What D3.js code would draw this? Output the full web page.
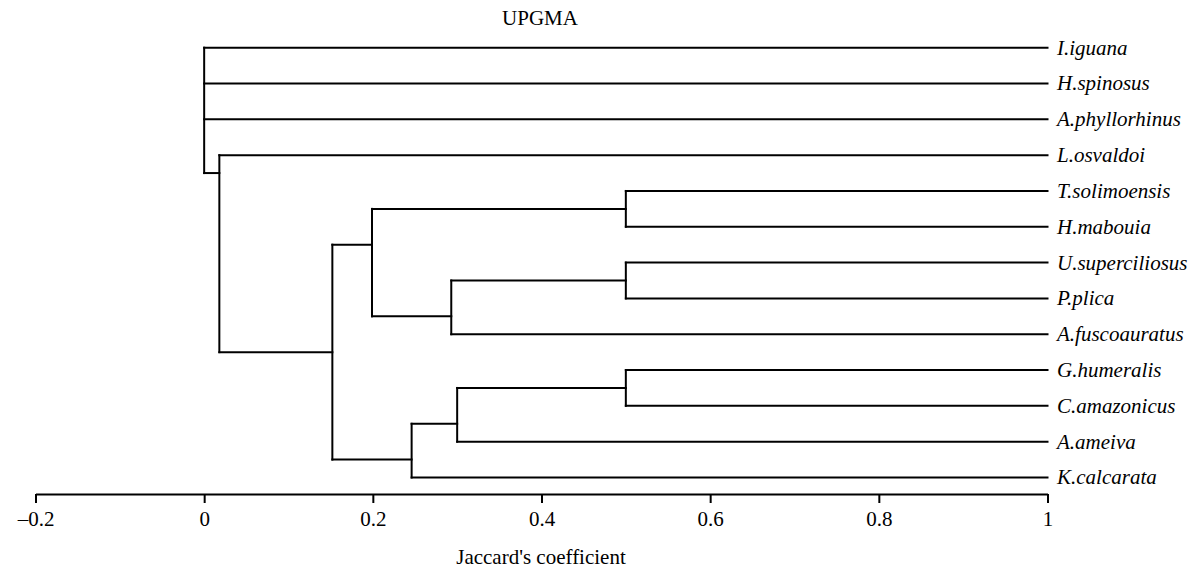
<!DOCTYPE html>
<html>
<head>
<meta charset="utf-8">
<script src="https://cdn.jsdelivr.net/npm/d3@7"></script>
<style>
	body { margin: 0; background: #fff; }
	text { font-family: "Liberation Serif", "Times New Roman", serif; fill: #000; }
</style>
</head>
<body>
<div class="chart"></div>
<script>
var outerW = 1197,
	outerH = 569;

// Data: leaves (top to bottom), internal nodes and their Jaccard heights
var species = ["I.iguana", "H.spinosus", "A.phyllorhinus", "L.osvaldoi",
	"T.solimoensis", "H.mabouia", "U.superciliosus", "P.plica",
	"A.fuscoauratus", "G.humeralis", "C.amazonicus", "A.ameiva", "K.calcarata"];

var nodeIds = ["root", "n1", "n2", "n3", "n4", "n5", "n6", "n7", "n8", "n9"];
var nodeHeights = [0, 0.018, 0.152, 0.199, 0.5, 0.293, 0.5, 0.246, 0.3, 0.5];
var nodeChildren = [
	["I.iguana", "H.spinosus", "A.phyllorhinus", "n1"],
	["L.osvaldoi", "n2"],
	["n3", "n7"],
	["n4", "n5"],
	["T.solimoensis", "H.mabouia"],
	["n6", "A.fuscoauratus"],
	["U.superciliosus", "P.plica"],
	["n8", "K.calcarata"],
	["n9", "A.ameiva"],
	["G.humeralis", "C.amazonicus"]
];
var leafHeight = 1;
var tickValues = [-0.2, 0, 0.2, 0.4, 0.6, 0.8, 1];

var svg = d3.select(".chart")
	.append("svg")
	.attr("width", outerW)
	.attr("height", outerH);

var x = d3.scaleLinear().domain([-0.2, 1]).range([35.5, 1047.5]);
var y = d3.scalePoint().domain(species).range([47.7, 477.5]);

// build hierarchy
function build(id) {
	var i = nodeIds.indexOf(id);
	if (i < 0) return {name: id, h: leafHeight};
	return {name: id, h: nodeHeights[i], children: nodeChildren[i].map(build)};
}
var root = d3.hierarchy(build("root"));

// stem position: gap between first child's last leaf and second child's first leaf
function firstLeafY(n) { return y(n.leaves()[0].data.name); }
function lastLeafY(n) { var l = n.leaves(); return y(l[l.length - 1].data.name); }
root.eachAfter(function(n) {
	if (!n.children) n.sy = y(n.data.name);
	else n.sy = (lastLeafY(n.children[0]) + firstLeafY(n.children[1])) / 2;
});

var g = svg.append("g")
	.attr("fill", "none")
	.attr("stroke", "#000")
	.attr("stroke-width", 2)
	.attr("stroke-linecap", "square");

// horizontal branches
g.selectAll(".hline")
	.data(root.descendants().filter(function(d) { return d.parent; }))
	.join("path")
	.attr("class", "hline")
	.attr("d", function(d) {
		return "M" + x(d.parent.data.h) + "," + d.sy + "H" + x(d.data.h);
	});

// vertical connectors
g.selectAll(".vline")
	.data(root.descendants().filter(function(d) { return d.children; }))
	.join("path")
	.attr("class", "vline")
	.attr("d", function(d) {
		var c = d.children;
		return "M" + x(d.data.h) + "," + c[0].sy + "V" + c[c.length - 1].sy;
	});

// leaf labels
svg.selectAll(".leaf")
	.data(root.leaves())
	.join("text")
	.attr("class", "leaf")
	.attr("x", x(leafHeight) + 9.5)
	.attr("y", function(d) { return d.sy; })
	.attr("dy", "0.33em")
	.style("font-size", "21px")
	.style("font-style", "italic")
	.text(function(d) { return d.data.name; });

// axis
var axis = svg.append("g")
	.attr("transform", "translate(0,494)")
	.call(d3.axisBottom(x)
		.tickValues(tickValues)
		.tickSize(9)
		.tickSizeOuter(0)
		.tickPadding(8)
		.tickFormat(function(d) { return d < 0 ? "\u2013" + Math.abs(d) : d3.format("")(d); }));
axis.select(".domain").attr("stroke-width", 2.2);
axis.selectAll(".tick line").attr("stroke-width", 2);
axis.selectAll(".tick text")
	.style("font-family", "'Liberation Serif', 'Times New Roman', serif")
	.style("font-size", "21px")
	.attr("fill", "#000");

svg.append("text")
	.attr("x", 541)
	.attr("y", 564)
	.style("text-anchor", "middle")
	.style("font-size", "21px")
	.text("Jaccard's coefficient");

svg.append("text")
	.attr("x", 540)
	.attr("y", 25)
	.style("text-anchor", "middle")
	.style("font-size", "21px")
	.text("UPGMA");
</script>
</body>
</html>
